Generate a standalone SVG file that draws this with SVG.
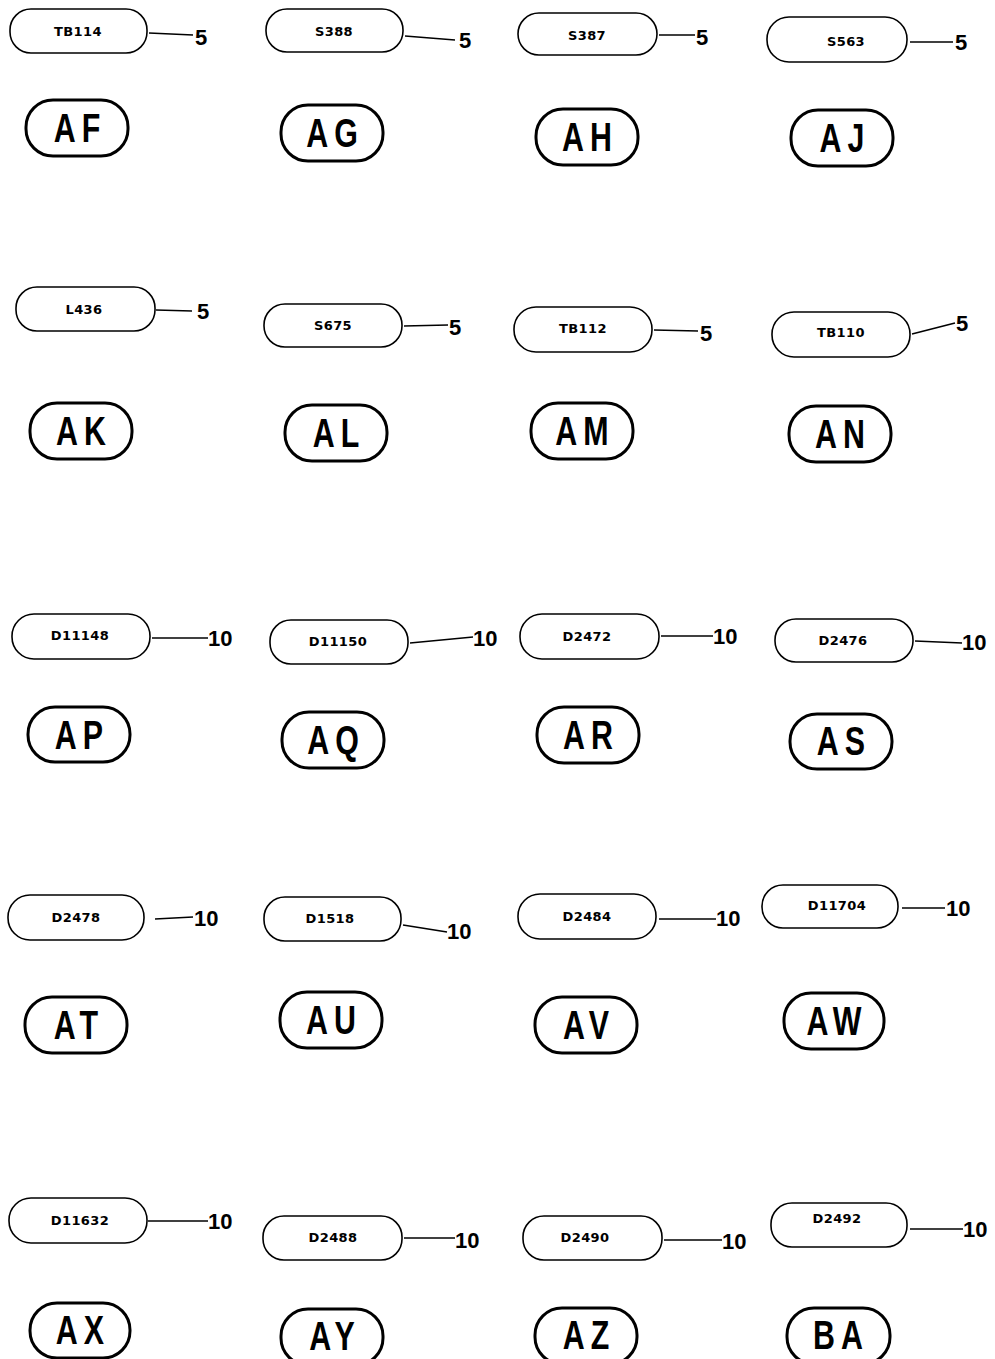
<svg xmlns="http://www.w3.org/2000/svg" width="995" height="1359" viewBox="0 0 995 1359">
<style>
.pill{fill:#fff;stroke:#000;stroke-width:1.6}
.big{fill:#fff;stroke:#000;stroke-width:3}
.lbl{font-family:"DejaVu Sans","Liberation Sans",sans-serif;font-size:13px;font-weight:bold;letter-spacing:0.4px;text-anchor:middle;fill:#000}
.code{font-family:"Liberation Sans",Arial,sans-serif;font-size:40px;font-weight:bold;text-anchor:middle;letter-spacing:8px;fill:#000}
.lead{stroke:#000;stroke-width:1.6;fill:none}
.num{font-family:"Liberation Sans","DejaVu Sans",sans-serif;font-size:22px;font-weight:bold;fill:#000}
</style>
<rect width="995" height="1359" fill="#fff"/>
<g id="n-TB114"><rect class="pill" x="10" y="9" width="137" height="44" rx="21"/><text class="lbl" x="78" y="36">TB114</text><rect class="big" x="26" y="100" width="102" height="56" rx="27"/><text class="code" transform="translate(80,142) scale(0.76,1)">AF</text></g>
<g id="n-S388"><rect class="pill" x="266" y="9" width="137" height="43" rx="21"/><text class="lbl" x="334" y="36">S388</text><rect class="big" x="281" y="105" width="102" height="56" rx="27"/><text class="code" transform="translate(335,147) scale(0.76,1)">AG</text></g>
<g id="n-S387"><rect class="pill" x="518" y="13" width="139" height="42" rx="21"/><text class="lbl" x="587" y="40">S387</text><rect class="big" x="536" y="109" width="102" height="56" rx="27"/><text class="code" transform="translate(590,151) scale(0.76,1)">AH</text></g>
<g id="n-S563"><rect class="pill" x="767" y="17" width="140" height="45" rx="22"/><text class="lbl" x="846" y="46">S563</text><rect class="big" x="791" y="110" width="102" height="56" rx="27"/><text class="code" transform="translate(845,152) scale(0.76,1)">AJ</text></g>
<g id="n-L436"><rect class="pill" x="16" y="287" width="139" height="44" rx="21"/><text class="lbl" x="84" y="314">L436</text><rect class="big" x="30" y="403" width="102" height="56" rx="27"/><text class="code" transform="translate(84,445) scale(0.76,1)">AK</text></g>
<g id="n-S675"><rect class="pill" x="264" y="304" width="138" height="43" rx="21"/><text class="lbl" x="333" y="330">S675</text><rect class="big" x="285" y="405" width="102" height="56" rx="27"/><text class="code" transform="translate(339,447) scale(0.76,1)">AL</text></g>
<g id="n-TB112"><rect class="pill" x="514" y="307" width="138" height="45" rx="22"/><text class="lbl" x="583" y="333">TB112</text><rect class="big" x="531" y="403" width="102" height="56" rx="27"/><text class="code" transform="translate(585,445) scale(0.76,1)">AM</text></g>
<g id="n-TB110"><rect class="pill" x="772" y="312" width="138" height="45" rx="22"/><text class="lbl" x="841" y="337">TB110</text><rect class="big" x="789" y="406" width="102" height="56" rx="27"/><text class="code" transform="translate(843,448) scale(0.76,1)">AN</text></g>
<g id="n-D11148"><rect class="pill" x="12" y="614" width="138" height="45" rx="22"/><text class="lbl" x="80" y="640">D11148</text><rect class="big" x="28" y="707" width="102" height="55" rx="27"/><text class="code" transform="translate(82,749) scale(0.76,1)">AP</text></g>
<g id="n-D11150"><rect class="pill" x="270" y="620" width="138" height="44" rx="21"/><text class="lbl" x="338" y="646">D11150</text><rect class="big" x="282" y="712" width="102" height="56" rx="27"/><text class="code" transform="translate(336,754) scale(0.76,1)">AQ</text></g>
<g id="n-D2472"><rect class="pill" x="520" y="614" width="139" height="45" rx="22"/><text class="lbl" x="587" y="641">D2472</text><rect class="big" x="537" y="707" width="102" height="56" rx="27"/><text class="code" transform="translate(591,749) scale(0.76,1)">AR</text></g>
<g id="n-D2476"><rect class="pill" x="775" y="619" width="138" height="43" rx="21"/><text class="lbl" x="843" y="645">D2476</text><rect class="big" x="790" y="714" width="102" height="55" rx="27"/><text class="code" transform="translate(844,755) scale(0.76,1)">AS</text></g>
<g id="n-D2478"><rect class="pill" x="8" y="895" width="136" height="45" rx="22"/><text class="lbl" x="76" y="922">D2478</text><rect class="big" x="25" y="997" width="102" height="56" rx="27"/><text class="code" transform="translate(79,1039) scale(0.76,1)">AT</text></g>
<g id="n-D1518"><rect class="pill" x="264" y="897" width="137" height="44" rx="21"/><text class="lbl" x="330" y="923">D1518</text><rect class="big" x="280" y="992" width="102" height="56" rx="27"/><text class="code" transform="translate(334,1034) scale(0.76,1)">AU</text></g>
<g id="n-D2484"><rect class="pill" x="518" y="894" width="138" height="45" rx="22"/><text class="lbl" x="587" y="921">D2484</text><rect class="big" x="535" y="997" width="102" height="56" rx="27"/><text class="code" transform="translate(589,1039) scale(0.76,1)">AV</text></g>
<g id="n-D11704"><rect class="pill" x="762" y="885" width="136" height="43" rx="21"/><text class="lbl" x="837" y="910">D11704</text><rect class="big" x="784" y="993" width="100" height="56" rx="27"/><text class="code" transform="translate(837,1035) scale(0.76,1)">AW</text></g>
<g id="n-D11632"><rect class="pill" x="9" y="1198" width="138" height="45" rx="22"/><text class="lbl" x="80" y="1225">D11632</text><rect class="big" x="30" y="1303" width="100" height="55" rx="27"/><text class="code" transform="translate(83,1344) scale(0.76,1)">AX</text></g>
<g id="n-D2488"><rect class="pill" x="263" y="1216" width="139" height="44" rx="21"/><text class="lbl" x="333" y="1242">D2488</text><rect class="big" x="281" y="1309" width="102" height="56" rx="27"/><text class="code" transform="translate(335,1350) scale(0.76,1)">AY</text></g>
<g id="n-D2490"><rect class="pill" x="523" y="1216" width="139" height="44" rx="21"/><text class="lbl" x="585" y="1242">D2490</text><rect class="big" x="535" y="1308" width="102" height="56" rx="27"/><text class="code" transform="translate(589,1349) scale(0.76,1)">AZ</text></g>
<g id="n-D2492"><rect class="pill" x="771" y="1203" width="136" height="44" rx="21"/><text class="lbl" x="837" y="1223">D2492</text><rect class="big" x="787" y="1308" width="103" height="56" rx="27"/><text class="code" transform="translate(841,1349) scale(0.76,1)">BA</text></g>
<g id="connectors">
<path class="lead" d="M149 33L193 35"/><text class="num" x="195" y="45">5</text>
<path class="lead" d="M405 36L455 40"/><text class="num" x="459" y="48">5</text>
<path class="lead" d="M659 35L695 35"/><text class="num" x="696" y="45">5</text>
<path class="lead" d="M910 42L953 42"/><text class="num" x="955" y="50">5</text>
<path class="lead" d="M156 310L192 311"/><text class="num" x="197" y="319">5</text>
<path class="lead" d="M404 326L448 325"/><text class="num" x="449" y="335">5</text>
<path class="lead" d="M654 330L698 331"/><text class="num" x="700" y="341">5</text>
<path class="lead" d="M912 334L955 323"/><text class="num" x="956" y="331">5</text>
<path class="lead" d="M152 638L208 638"/><text class="num" x="208" y="646">10</text>
<path class="lead" d="M410 643L473 637"/><text class="num" x="473" y="646">10</text>
<path class="lead" d="M661 636L713 636"/><text class="num" x="713" y="644">10</text>
<path class="lead" d="M915 641L962 643"/><text class="num" x="962" y="650">10</text>
<path class="lead" d="M155 919L193 917"/><text class="num" x="194" y="926">10</text>
<path class="lead" d="M403 925L447 932"/><text class="num" x="447" y="939">10</text>
<path class="lead" d="M659 919L716 919"/><text class="num" x="716" y="926">10</text>
<path class="lead" d="M902 908L945 908"/><text class="num" x="946" y="916">10</text>
<path class="lead" d="M148 1221L208 1221"/><text class="num" x="208" y="1229">10</text>
<path class="lead" d="M404 1238L455 1238"/><text class="num" x="455" y="1248">10</text>
<path class="lead" d="M664 1240L722 1240"/><text class="num" x="722" y="1249">10</text>
<path class="lead" d="M910 1229L963 1229"/><text class="num" x="963" y="1237">10</text>
</g>
</svg>
